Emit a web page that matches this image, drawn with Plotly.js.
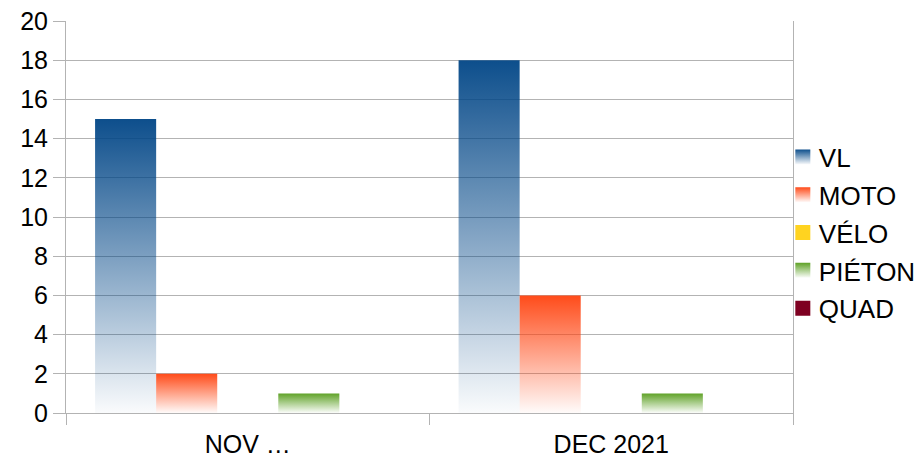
<!DOCTYPE html>
<html><head><meta charset="utf-8">
<script src="https://cdn.plot.ly/plotly-3.0.1.min.js"></script>
<style>html,body{margin:0;padding:0;background:#fff}#chart{width:920px;height:460px}</style>
</head><body><div id="chart"></div>
<script>
const categories = ["NOV …", "DEC 2021"];
const seriesNames = ["VL", "MOTO", "VÉLO", "PIÉTON", "QUAD"];
const VL = [15, 18];
const MOTO = [2, 6];
const VELO = [0, 0];
const PIETON = [1, 1];
const QUAD = [0, 0];
const yTicks = [0, 2, 4, 6, 8, 10, 12, 14, 16, 18, 20];

const values = [VL, MOTO, VELO, PIETON, QUAD];
const colors = ["#004586", "#ff420e", "#ffd320", "#579d1c", "#7e0021"];
const gradient = [true, true, false, true, false];
const FONT = "Liberation Sans, Arial, sans-serif";

const data = seriesNames.map((n, i) => ({
  type: "bar", name: n, x: categories, y: values[i],
  legendgroup: "g" + i,
  marker: {color: colors[i], line: {width: 0}},
  hoverinfo: "none"
}));

const layout = {
  width: 920, height: 460,
  margin: {l: 66, r: 127, t: 21, b: 47, autoexpand: false},
  paper_bgcolor: "#fff", plot_bgcolor: "#fff",
  barmode: "group", bargap: 0.16, bargroupgap: 0,
  font: {family: FONT, size: 25, color: "#000"},
  xaxis: {
    type: "category", showgrid: false, showline: true, linecolor: "#b3b3b3", linewidth: 1,
    ticks: "outside", tickson: "boundaries", ticklen: 11, tickcolor: "#b3b3b3",
    ticklabelstandoff: 9,
    tickfont: {size: 25, family: FONT, color: "#000"}, fixedrange: true
  },
  yaxis: {
    range: [0, 20], tickvals: yTicks, ticktext: yTicks.map(String),
    showgrid: true, gridcolor: "#b3b3b3", zeroline: false,
    showline: true, linecolor: "#b3b3b3", mirror: true,
    ticks: "outside", ticklen: 12, tickcolor: "#b3b3b3",
    tickfont: {size: 25, family: FONT, color: "#000"}, fixedrange: true
  },
  showlegend: true,
  legend: {
    x: 0.986, xanchor: "left", y: 0.459, yanchor: "middle",
    traceorder: "grouped", tracegroupgap: 1,
    font: {size: 26, family: FONT, color: "#000"},
    itemwidth: 30, bgcolor: "rgba(0,0,0,0)"
  }
};

Plotly.newPlot("chart", data, layout, {staticPlot: true, displayModeBar: false}).then(gd => {
  const svg = gd.querySelector("svg.main-svg");
  const ns = "http://www.w3.org/2000/svg";
  let defs = svg.querySelector("defs");
  if (!defs) { defs = document.createElementNS(ns, "defs"); svg.insertBefore(defs, svg.firstChild); }
  colors.forEach((c, i) => {
    const lg = document.createElementNS(ns, "linearGradient");
    lg.setAttribute("id", "grad" + i);
    lg.setAttribute("x1", "0"); lg.setAttribute("y1", "0");
    lg.setAttribute("x2", "0"); lg.setAttribute("y2", "1");
    const s1 = document.createElementNS(ns, "stop");
    s1.setAttribute("offset", "0"); s1.setAttribute("stop-color", c); s1.setAttribute("stop-opacity", "0.95");
    const s2 = document.createElementNS(ns, "stop");
    s2.setAttribute("offset", "1"); s2.setAttribute("stop-color", c); s2.setAttribute("stop-opacity", "0.02");
    lg.appendChild(s1); lg.appendChild(s2); defs.appendChild(lg);
  });
  gd.querySelectorAll("g.barlayer g.trace").forEach((t, i) => {
    if (!gradient[i]) return;
    t.querySelectorAll("path").forEach(p => { p.style.fill = "url(#grad" + i + ")"; p.style.fillOpacity = 1; });
  });
  gd.querySelectorAll("g.legend g.traces").forEach((t, i) => {
    t.querySelectorAll(".legendpoints path").forEach(p => {
      p.setAttribute("d", "M7.5,7.5H-7.5V-7.5H7.5Z");
      if (gradient[i]) p.style.fill = "url(#grad" + i + ")";
      p.style.stroke = "none";
    });
    const txt = t.querySelector("text.legendtext");
    if (txt) txt.setAttribute("x", "36");
  });
});
</script></body></html>
